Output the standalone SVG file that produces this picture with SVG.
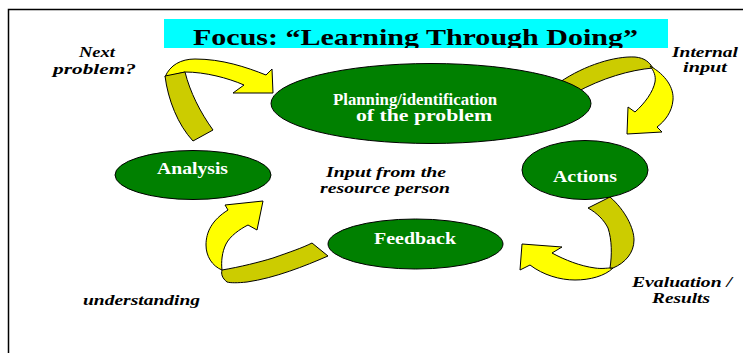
<svg xmlns="http://www.w3.org/2000/svg" width="743" height="353" viewBox="0 0 743 353">
  <style>
    .node ellipse { fill: #008000; stroke: #000; stroke-width: 1; }
    .node text { fill: #fff; font-family: "Liberation Serif", "Times New Roman", serif; font-weight: bold; font-size: 16px; }
    .note { fill: #000; font-family: "Liberation Serif", "Times New Roman", serif; font-weight: bold; font-style: italic; font-size: 14px; }
    .back { fill: #CCCC00; stroke: #000; stroke-width: 1; stroke-linejoin: round; }
    .front { fill: #FFFF00; stroke: #000; stroke-width: 1; stroke-linejoin: round; }
  </style>
  <defs>
    <clipPath id="titleClip"><rect x="164" y="19" width="504" height="29"/></clipPath>
  </defs>

  <rect width="743" height="353" fill="#fff"/>
  <!-- frame -->
  <path d="M8.5,353 V9.5 H743" fill="none" stroke="#000" stroke-width="1.5"/>

  <!-- title banner -->
  <g id="title">
    <rect x="164" y="19" width="504" height="29" fill="#00FFFF"/>
    <text x="193" y="45" clip-path="url(#titleClip)" textLength="445" lengthAdjust="spacingAndGlyphs" font-family="Liberation Serif, Times New Roman, serif" font-weight="bold" font-size="24" fill="#000">Focus: “Learning Through Doing”</text>
  </g>

  <!-- cycle arrows -->
  <g id="connectors">
    <!-- Analysis -> Planning -->
    <path class="front" d="M165,77 C170,65 181,59 195,59 C222,59 246,67 266,75 L272,69 L273,93 L233,93 L244,85 C228,78 205,72 185,72 Z"/>
    <path class="back" d="M165,76 C168,100 178,125 193,141 L213,130 C200,112 190,92 185,72 Z"/>
    <!-- Planning -> Actions -->
    <path class="back" d="M560,82 C585,65 615,56 635,57 C645,58 649,62 653,68 C630,70 602,78 575,93 Z"/>
    <path class="front" d="M650,66 C666,75 674,88 673,100 C672,112 665,121 657,127 L662,132 L627,134 L628,107 L635,112 C645,103 653,92 655,82 C656,76 654,71 650,66 Z"/>
    <!-- Actions -> Feedback -->
    <path class="front" d="M613,268 C605,276 590,280 575,280 C560,280 543,275 530,265 L520,270 L522,244 L562,247 L552,253 C565,260 580,266 595,268 C602,269 607,268 610,268 Z"/>
    <path class="back" d="M588,208 L610,197 C625,210 634,228 634,240 C634,253 625,263 613,268 L610,268 C612,255 612,240 608,228 C604,220 597,213 588,208 Z"/>
    <!-- Feedback -> Analysis -->
    <path class="front" d="M222,270 C212,266 206,256 206,245 C206,232 212,220 228,210 L225,205 L263,201 L257,230 L248,225 C240,229 230,236 226,244 C222,252 221,262 222,270 Z"/>
    <path class="back" d="M312,243 L328,256 C305,266 275,278 247,282 C238,283 230,283 227,282 C222,278 221,274 222,270 C240,267 260,262 273,258 C290,252 302,248 312,243 Z"/>
  </g>

  <g id="planning" class="node">
    <ellipse cx="431" cy="103.5" rx="160" ry="40"/>
    <text x="333" y="105" textLength="164" lengthAdjust="spacingAndGlyphs" font-size="14">Planning/identification</text>
    <text x="356" y="121" textLength="136" lengthAdjust="spacingAndGlyphs" font-size="14">of the problem</text>
  </g>

  <g id="analysis" class="node">
    <ellipse cx="193" cy="175" rx="78" ry="24.5"/>
    <text x="157" y="174" textLength="71" lengthAdjust="spacingAndGlyphs">Analysis</text>
  </g>

  <g id="actions" class="node">
    <ellipse cx="585" cy="170" rx="63" ry="29.5"/>
    <text x="553" y="182" textLength="64" lengthAdjust="spacingAndGlyphs">Actions</text>
  </g>

  <g id="feedback" class="node">
    <ellipse cx="415.5" cy="244" rx="87.5" ry="25"/>
    <text x="374" y="244" textLength="82" lengthAdjust="spacingAndGlyphs">Feedback</text>
  </g>

  <!-- side notes -->
  <g id="notes">
    <text class="note" x="79" y="57" textLength="36" lengthAdjust="spacingAndGlyphs">Next</text>
    <text class="note" x="53" y="74" textLength="83" lengthAdjust="spacingAndGlyphs">problem?</text>
    <text class="note" x="672" y="57" textLength="66" lengthAdjust="spacingAndGlyphs">Internal</text>
    <text class="note" x="683" y="72" textLength="44" lengthAdjust="spacingAndGlyphs">input</text>
    <text class="note" x="326" y="177" textLength="120" lengthAdjust="spacingAndGlyphs">Input from the</text>
    <text class="note" x="320" y="193" textLength="130" lengthAdjust="spacingAndGlyphs">resource person</text>
    <text class="note" x="632" y="287" textLength="100" lengthAdjust="spacingAndGlyphs">Evaluation /</text>
    <text class="note" x="652" y="303" textLength="58" lengthAdjust="spacingAndGlyphs">Results</text>
    <text class="note" x="83" y="305" textLength="117" lengthAdjust="spacingAndGlyphs">understanding</text>
  </g>
</svg>
